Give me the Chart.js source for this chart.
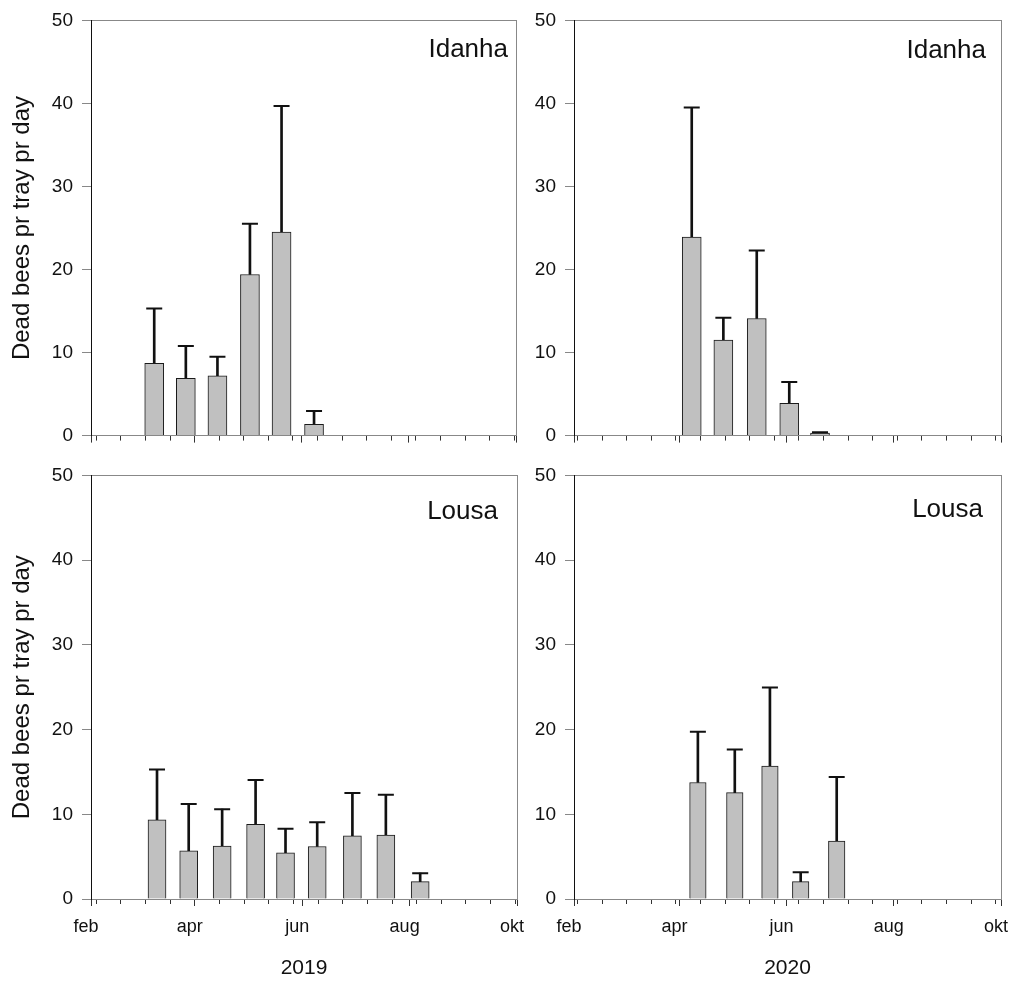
<!DOCTYPE html>
<html>
<head>
<meta charset="utf-8">
<script src="https://cdn.jsdelivr.net/npm/chart.js@4.4.1/dist/chart.umd.min.js"></script>
<style>
    html, body { margin: 0; padding: 0; background: #fff; overflow: hidden; width: 1010px; height: 981px; }
    canvas { position: absolute; }
</style>
</head>
<body>
<canvas id="idanha2019" width="540" height="456" style="left:0px;top:0px"></canvas>
<canvas id="idanha2020" width="530" height="456" style="left:500px;top:0px"></canvas>
<canvas id="lousa2019" width="540" height="526" style="left:0px;top:455px"></canvas>
<canvas id="lousa2020" width="530" height="526" style="left:500px;top:455px"></canvas>
<script>
// x values are days counted from 1 February of the year
const monthLabels = ['feb', 'apr', 'jun', 'aug', 'okt'];
const monthDays2019 = [0, 59, 120, 181, 242];
const monthDays2020 = [0, 60, 121, 182, 243];
// minor ticks every second monday
const weekDays2019 = [3, 17, 31, 45, 59, 73, 87, 101, 115, 129, 143, 157, 171, 185, 199, 213, 227, 241];
const weekDays2020 = [2, 16, 30, 44, 58, 72, 86, 100, 114, 128, 142, 156, 170, 184, 198, 212, 226, 240];

const yTitle = 'Dead bees pr tray pr day';

// Idanha 2019
const idanha2019Days = [36, 54, 72, 90.5, 108.5, 127];
const idanha2019Mean = [8.7, 6.9, 7.2, 19.4, 24.5, 1.35];
const idanha2019Upper = [15.3, 10.8, 9.5, 25.5, 39.7, 2.95];

// Idanha 2020
const idanha2020Days = [67, 85, 104, 122.5, 140];
const idanha2020Mean = [23.9, 11.5, 14.1, 3.9, 0.3];
const idanha2020Upper = [39.5, 14.2, 22.3, 6.45, 0.4];

// Lousa 2019
const lousa2019Days = [37.5, 55.5, 74.5, 93.5, 110.5, 128.5, 148.5, 167.5, 187];
const lousa2019Mean = [9.35, 5.7, 6.25, 8.8, 5.45, 6.2, 7.45, 7.55, 2.05];
const lousa2019Upper = [15.3, 11.2, 10.6, 14.05, 8.3, 9.05, 12.5, 12.3, 3.05];

// Lousa 2020
const lousa2020Days = [70.5, 91.5, 111.5, 129, 149.5];
const lousa2020Mean = [13.75, 12.55, 15.7, 2.05, 6.85];
const lousa2020Upper = [19.75, 17.65, 24.95, 3.15, 14.4];

const FONT = '"Liberation Sans", Arial, Helvetica, sans-serif';
Chart.defaults.font.family = FONT;

// Site name in the upper right corner of the plot
const siteLabel = {
    id: 'siteLabel',
    afterDraw: (chart, args, opts) => {
        const { ctx, chartArea: { top, right } } = chart;
        ctx.save();
        ctx.font = '26px ' + FONT;
        ctx.fillStyle = '#111';
        ctx.textAlign = 'right';
        ctx.textBaseline = 'alphabetic';
        ctx.fillText(opts.text, right - opts.dx, top + opts.dy);
        ctx.restore();
    }
};

function makePanel(id, o) {
    const last = o.months[o.months.length - 1];
    return new Chart(document.getElementById(id), {
        type: 'bar',
        data: {
            datasets: [
                {
                    label: 'sd',
                    data: o.days.map((d, i) => ({ x: d, y: [o.mean[i], o.upper[i]] })),
                    backgroundColor: '#111',
                    borderWidth: 0,
                    barThickness: 2,
                    grouped: false,
                    order: 2,
                    xAxisID: 'x',
                    yAxisID: 'y',
                },
                {
                    label: 'mean',
                    data: o.days.map((d, i) => ({ x: d, y: o.mean[i] })),
                    backgroundColor: '#c0c0c0',
                    borderColor: '#1a1a1a',
                    borderWidth: 1,
                    barThickness: o.barWidth,
                    grouped: false,
                    order: 1,
                    xAxisID: 'x',
                    yAxisID: 'y',
                },
                {
                    label: 'cap',
                    type: 'scatter',
                    data: o.days.map((d, i) => ({ x: d, y: o.upper[i] })),
                    pointStyle: 'line',
                    pointRadius: 8,
                    borderColor: '#111',
                    borderWidth: 2,
                    order: 0,
                    xAxisID: 'x',
                    yAxisID: 'y',
                },
            ],
        },
        options: {
            responsive: false,
            animation: false,
            events: [],
            layout: { padding: { top: 16, right: o.padRight, left: 0, bottom: 0 } },
            plugins: {
                legend: { display: false },
                tooltip: { enabled: false },
                siteLabel: { text: o.site, dx: o.labelDx, dy: o.labelDy },
            },
            scales: {
                x: {
                    type: 'linear',
                    position: 'bottom',
                    weight: 1,
                    min: 0,
                    max: last,
                    offset: false,
                    afterBuildTicks: s => { s.ticks = o.months.map(v => ({ value: v })); },
                    afterFit: s => { s.height = o.xHeight; },
                    ticks: {
                        autoSkip: false,
                        maxRotation: 0,
                        labelOffset: -5,
                        padding: 10,
                        color: '#111',
                        font: { size: 18 },
                        callback: (v, i) => o.showMonths ? monthLabels[i] : '',
                    },
                    grid: { offset: false, drawOnChartArea: false, tickLength: 7, tickColor: '#333' },
                    border: { color: '#888' },
                    title: {
                        display: !!o.year,
                        text: o.year,
                        color: '#111',
                        font: { size: 21 },
                        padding: 0,
                    },
                },
                xm: {
                    type: 'linear',
                    position: 'bottom',
                    weight: 0,
                    min: 0,
                    max: last,
                    offset: false,
                    afterBuildTicks: s => { s.ticks = o.weeks.map(v => ({ value: v })); },
                    afterFit: s => { s.height = 0; },
                    ticks: { display: false },
                    grid: { offset: false, drawOnChartArea: false, tickLength: 5, tickColor: '#333' },
                    border: { display: false },
                },
                xt: {
                    type: 'linear',
                    position: 'top',
                    min: 0,
                    max: last,
                    afterFit: s => { s.height = 0; },
                    ticks: { display: false },
                    grid: { display: false },
                    border: { color: '#888' },
                },
                y: {
                    type: 'linear',
                    position: 'left',
                    min: 0,
                    max: 50,
                    afterFit: s => { s.width = o.yWidth; },
                    ticks: { stepSize: 10, padding: 9, color: '#111', font: { size: 19 } },
                    grid: { drawOnChartArea: false, tickLength: 9, tickColor: '#888' },
                    border: { color: '#111' },
                    title: {
                        display: o.showTitle,
                        text: yTitle,
                        color: '#111',
                        font: { size: 24 },
                        padding: { top: 8, bottom: 0 },
                    },
                },
                yr: {
                    type: 'linear',
                    position: 'right',
                    min: 0,
                    max: 50,
                    afterFit: s => { s.width = 0; },
                    ticks: { display: false },
                    grid: { display: false },
                    border: { color: '#888' },
                },
            },
        },
        plugins: [siteLabel],
    });
}

makePanel('idanha2019', {
    days: idanha2019Days, mean: idanha2019Mean, upper: idanha2019Upper,
    months: monthDays2019, weeks: weekDays2019, showMonths: false, year: '',
    site: 'Idanha', labelDx: 8, labelDy: 37,
    barWidth: 19, yWidth: 91, xHeight: 12, padRight: 24, showTitle: true,
});

makePanel('idanha2020', {
    days: idanha2020Days, mean: idanha2020Mean, upper: idanha2020Upper,
    months: monthDays2020, weeks: weekDays2020, showMonths: false, year: '',
    site: 'Idanha', labelDx: 15, labelDy: 38,
    barWidth: 19, yWidth: 74, xHeight: 12, padRight: 29, showTitle: false,
});

makePanel('lousa2019', {
    days: lousa2019Days, mean: lousa2019Mean, upper: lousa2019Upper,
    months: monthDays2019, weeks: weekDays2019, showMonths: true, year: '2019',
    site: 'Lousa', labelDx: 19, labelDy: 44,
    barWidth: 18, yWidth: 91, xHeight: 82, padRight: 23, showTitle: true,
});

makePanel('lousa2020', {
    days: lousa2020Days, mean: lousa2020Mean, upper: lousa2020Upper,
    months: monthDays2020, weeks: weekDays2020, showMonths: true, year: '2020',
    site: 'Lousa', labelDx: 18, labelDy: 42,
    barWidth: 16.5, yWidth: 74, xHeight: 82, padRight: 29, showTitle: false,
});
</script>
</body>
</html>
